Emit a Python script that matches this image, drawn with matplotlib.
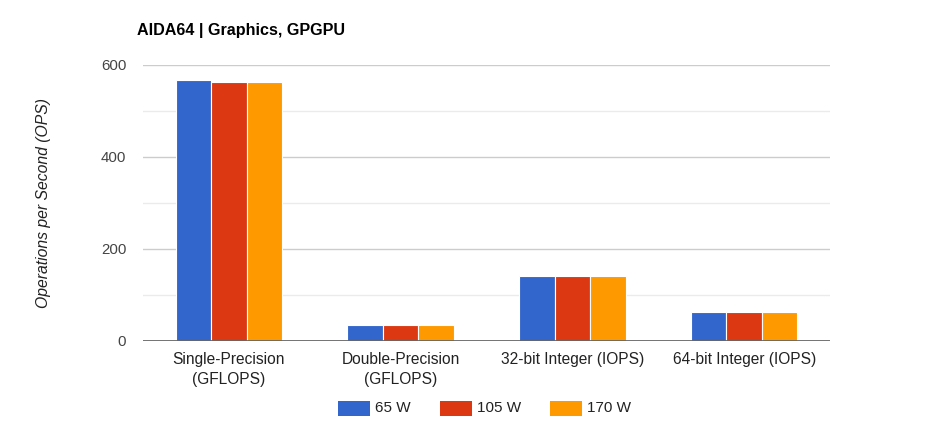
import matplotlib
matplotlib.use("Agg")
import matplotlib.pyplot as plt
from matplotlib.patches import Rectangle

categories = ["Single-Precision\n(GFLOPS)", "Double-Precision\n(GFLOPS)",
              "32-bit Integer (IOPS)", "64-bit Integer (IOPS)"]
series_names = ["65 W", "105 W", "170 W"]
values_65 = [567, 34, 141, 61]
values_105 = [564, 34, 141, 61]
values_170 = [564, 34, 141, 61]
series_values = [values_65, values_105, values_170]
colors = ["#3366cc", "#dc3912", "#ff9900"]
yticks = [0, 200, 400, 600]
minor_ticks = [100, 300, 500]

plt.rcParams['font.family'] = ['Liberation Sans', 'DejaVu Sans']

W, H = 930, 441
fig = plt.figure(figsize=(W / 100, H / 100), dpi=100)
left, right, bottom, top = 143, 830, 340.5, 65
ax = fig.add_axes([left / W, 1 - bottom / H, (right - left) / W, (bottom - top) / H])

bw = 0.207
n = len(series_names)
for j, (name, vals, c) in enumerate(zip(series_names, series_values, colors)):
    xs = [i + (j - (n - 1) / 2) * bw for i in range(len(categories))]
    ax.bar(xs, vals, width=bw, color=c, edgecolor="white", linewidth=0.8, zorder=3)

ax.set_xlim(-0.5, len(categories) - 0.5)
ax.set_ylim(0, 600)
for y in minor_ticks:
    ax.axhline(y, color="#ebebeb", linewidth=1, zorder=1)
for y in yticks[1:]:
    ax.axhline(y, color="#cccccc", linewidth=1, zorder=1)
ax.axhline(0, color="#666666", linewidth=2, zorder=4)

ax.set_yticks(yticks)
ax.set_yticklabels([str(t) for t in yticks], fontsize=10.8, color="#444444")
ax.set_xticks(range(len(categories)))
ax.set_xticklabels(categories, fontsize=11.2, color="#222222", linespacing=1.45, va="top")
ax.tick_params(axis="y", length=0, pad=12)
ax.tick_params(axis="x", length=0, pad=8)
for s in ax.spines.values():
    s.set_visible(False)

ax.set_ylabel("Operations per Second (OPS)", fontsize=11.3, style="italic", color="#222222")
ax.yaxis.set_label_coords((51 - left) / (right - left), 0.5)

fig.text(137 / W, 1 - 30 / H, "AIDA64 | Graphics, GPGPU", fontsize=11.6, fontweight="bold",
         color="#000000", va="center", ha="left")

# legend
box_x = [338, 440, 550]
ly = 408
for bx, name, c in zip(box_x, series_names, colors):
    fig.patches.append(Rectangle((bx / W, 1 - (ly + 7.5) / H), 32 / W, 15 / H,
                                 transform=fig.transFigure, facecolor=c, edgecolor="none"))
    fig.text((bx + 37) / W, 1 - ly / H, name, fontsize=11, color="#222222", va="center", ha="left")

fig.savefig("out.png", dpi=100)
